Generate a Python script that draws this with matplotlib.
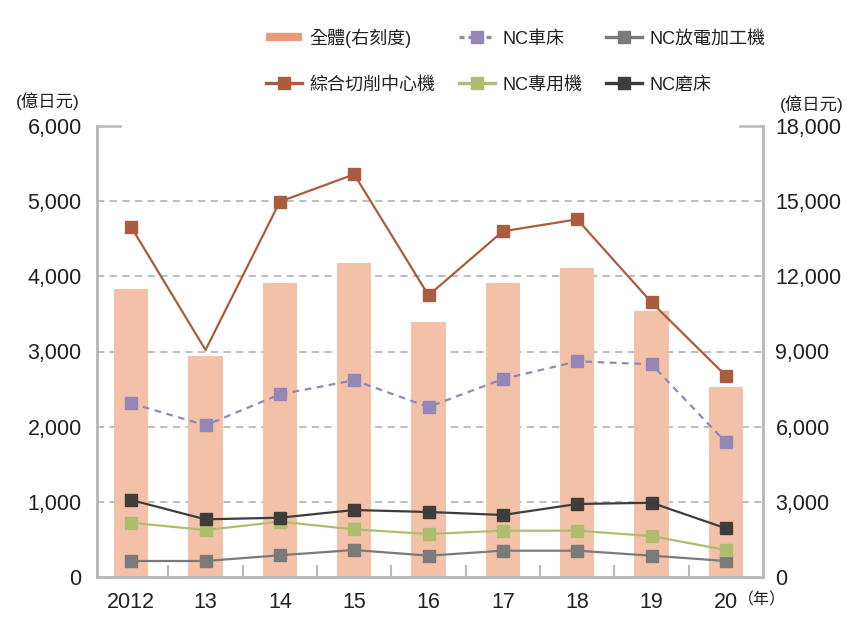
import numpy as np
import matplotlib
matplotlib.use("Agg")
import matplotlib.pyplot as plt
from matplotlib.lines import Line2D

plt.rcParams['font.family'] = ['Liberation Sans', 'Noto Sans CJK TC']

# Data (億日元)
years = ['2012', '13', '14', '15', '16', '17', '18', '19', '20']
total = [11500, 8820, 11730, 12530, 10180, 11730, 12330, 10620, 7580]       # right axis
machining_center = [4656, 3020, 4993, 5357, 3747, 4599, 4758, 3654, 2678]
nc_lathe = [2311, 2018, 2430, 2617, 2262, 2634, 2869, 2830, 1792]
nc_grinder = [1024, 767, 789, 891, 865, 825, 971, 988, 648]
nc_special = [722, 625, 736, 634, 572, 616, 616, 545, 359]
nc_edm = [213, 213, 289, 359, 284, 350, 350, 284, 213]

text_c = '#231f20'
grid_c = '#b8b8b8'
bar_c = '#f2c1a7'
mc_c = '#a95c3e'
lathe_c = '#9487b8'
edm_c = '#7a7a7a'
special_c = '#afbd6e'
grinder_c = '#3f3c3c'

fig = plt.figure(figsize=(8.56, 6.35), dpi=100)
ax = fig.add_axes([97 / 856, 58 / 635, 666 / 856, 451 / 635])
ax2 = ax.twinx()
ax.set_zorder(ax2.get_zorder() + 1)
ax.patch.set_visible(False)

x = np.arange(len(years))

# bars on right axis
ax2.bar(x, total, width=0.46, color=bar_c, zorder=2)
ax2.set_ylim(0, 18000)
ax2.set_yticks(np.arange(0, 18001, 3000))
ax2.set_yticklabels([f'{v:,}' for v in range(0, 18001, 3000)])
for v in range(3000, 18000, 3000):
    ax2.axhline(v, color=grid_c, linestyle=(0, (4, 3)), linewidth=1.3, zorder=0)

ms = 9
lw = 1.6
ax.plot(x, machining_center, color=mc_c, lw=lw, marker='s', ms=ms,
        markevery=[0, 2, 3, 4, 5, 6, 7, 8])
ax.plot(x, nc_lathe, color=lathe_c, lw=lw, ls=(0, (3, 2.5)), marker='s', ms=ms)
ax.plot(x, nc_edm, color=edm_c, lw=lw, marker='s', ms=ms)
ax.plot(x, nc_special, color=special_c, lw=lw, marker='s', ms=ms)
ax.plot(x, nc_grinder, color=grinder_c, lw=lw, marker='s', ms=ms)

ax.set_ylim(0, 6000)
ax.set_yticks(np.arange(0, 6001, 1000))
ax.set_yticklabels([f'{v:,}' for v in range(0, 6001, 1000)])
ax.set_xlim(-0.46, 8.5)
ax.set_xticks(x)
ax.set_xticklabels(years)
ax.set_xticks(np.arange(0.5, 8, 1), minor=True)

for a in (ax, ax2):
    for s in a.spines.values():
        s.set_color(grid_c)
        s.set_linewidth(1.8)
    a.spines['top'].set_visible(False)
    a.tick_params(axis='y', length=0, labelsize=15.5, colors=text_c)
ax.tick_params(axis='y', pad=11)
ax2.tick_params(axis='y', pad=9)
ax.tick_params(axis='x', which='major', length=0, pad=11, labelsize=15.5, colors=text_c)
ax.tick_params(axis='x', which='minor', length=9, width=1.5, direction='in', color=grid_c)

# short solid caps at the 6,000 level
ax.plot([0, 0.035], [1, 1], transform=ax.transAxes, color=grid_c, lw=1.8, clip_on=False)
ax.plot([0.965, 1], [1, 1], transform=ax.transAxes, color=grid_c, lw=1.8, clip_on=False)

# unit labels
fig.text(48 / 856, 1 - 101 / 635, '(億日元)', ha='center', va='center', fontsize=12.5, color=text_c)
fig.text(812 / 856, 1 - 104 / 635, '(億日元)', ha='center', va='center', fontsize=12.5, color=text_c)
fig.text(762 / 856, 1 - 600 / 635, '（年）', ha='center', va='center', fontsize=11.5, color=text_c)

# legend
def line_handle(c, ls='-'):
    return Line2D([], [], color=c, lw=2.4, ls=ls, marker='s', ms=8)

handles = [Line2D([], [], color='#eb9a77', lw=6, solid_capstyle='butt'),
           line_handle(mc_c),
           line_handle(lathe_c, (0, (1.5, 1.2))), line_handle(special_c),
           line_handle(edm_c), line_handle(grinder_c)]
labels = ['全體(右刻度)', '綜合切削中心機', 'NC車床', 'NC專用機', 'NC放電加工機', 'NC磨床']
fig.legend(handles, labels, ncol=3, loc='upper left',
           bbox_to_anchor=(250 / 856, 1 - 12 / 635), frameon=False,
           fontsize=13, handlelength=2.0, handletextpad=0.4,
           columnspacing=1.3, labelspacing=1.6, labelcolor=text_c)

fig.savefig('out.png', dpi=100)
